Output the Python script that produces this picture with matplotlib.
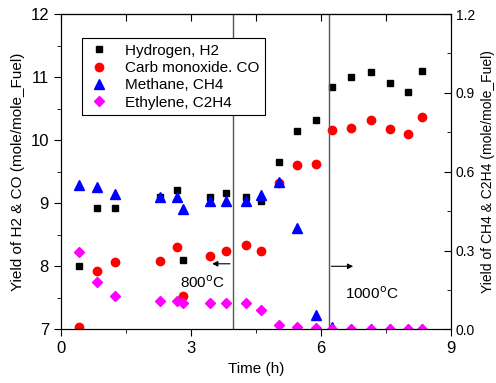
import numpy as np
import matplotlib
matplotlib.use("Agg")
import matplotlib.pyplot as plt
from matplotlib.ticker import MultipleLocator

plt.rcParams['font.family'] = ['Liberation Sans', 'DejaVu Sans']

## Data
time_h = [0.43, 0.83, 1.25, 2.29, 2.68, 2.81, 3.45, 3.81, 4.27, 4.61,
          5.03, 5.44, 5.90, 6.25, 6.69, 7.15, 7.59, 8.00, 8.34]
hydrogen = [8.00, 8.93, 8.93, 9.10, 9.21, 8.10, 9.10, 9.16, 9.10, 9.03,
            9.66, 10.15, 10.32, 10.84, 11.00, 11.08, 10.90, 10.76, 11.10]
carb_monoxide = [7.03, 7.92, 8.07, 8.09, 8.31, 7.53, 8.17, 8.25, 8.33, 8.24,
                 9.32, 9.61, 9.62, 10.16, 10.20, 10.32, 10.18, 10.10, 10.37]
methane = [0.55, 0.54, 0.515, 0.505, 0.505, 0.457, 0.49, 0.49, 0.487, 0.51,
           0.56, 0.385, 0.053, 0.008, 0.0, 0.0, 0.0, 0.0, 0.0]
ethylene = [0.293, 0.18, 0.127, 0.109, 0.109, 0.099, 0.10, 0.10, 0.10, 0.074,
            0.018, 0.009, 0.005, 0.0, 0.0, 0.0, 0.0, 0.0, 0.0]

## Gráfico
fig = plt.figure(figsize=(4.96, 3.83), dpi=100)
ax = fig.add_axes([0.1224, 0.140, 0.7866, 0.8234])
ax2 = ax.twinx()

h1, = ax.plot(time_h, hydrogen, 's', color='black', markersize=5, label='Hydrogen, H2')
h2, = ax.plot(time_h, carb_monoxide, 'o', color='red', markersize=6, label='Carb monoxide. CO')
h3, = ax2.plot(time_h, methane, '^', color='blue', markersize=6.5, label='Methane, CH4')
h4, = ax2.plot(time_h, ethylene, 'D', color='magenta', markersize=5.5, label='Ethylene, C2H4')

ax.set_xlim(0, 9)
ax.set_ylim(7, 12)
ax2.set_ylim(0, 1.2)

ax.xaxis.set_major_locator(MultipleLocator(3))
ax.xaxis.set_minor_locator(MultipleLocator(1.5))
ax.yaxis.set_major_locator(MultipleLocator(1))
ax.yaxis.set_minor_locator(MultipleLocator(0.5))
ax2.yaxis.set_major_locator(MultipleLocator(0.3))
ax2.yaxis.set_minor_locator(MultipleLocator(0.15))
ax2.yaxis.set_major_formatter(plt.FormatStrFormatter('%.1f'))

ax.tick_params(axis='both', which='major', direction='out', length=5, labelsize=12, top=False)
ax.tick_params(axis='both', which='minor', direction='out', length=3, top=False)
ax2.tick_params(axis='y', which='major', direction='in', length=5, labelsize=10)
ax2.tick_params(axis='y', which='minor', direction='in', length=3)

# top ticks pointing in
axt = ax.secondary_xaxis('top')
axt.xaxis.set_major_locator(MultipleLocator(1.5))
axt.tick_params(axis='x', which='major', direction='in', length=5, labeltop=False)

# temperature zone markers
ax.axvline(3.97, color='#555555', linewidth=1)
ax.axvline(6.18, color='#555555', linewidth=1)
ax.annotate('', xy=(3.43, 8.04), xytext=(3.97, 8.04),
            arrowprops=dict(arrowstyle='-|>', color='black', lw=0.8, mutation_scale=8))
ax.annotate('', xy=(6.81, 8.00), xytext=(6.18, 8.00),
            arrowprops=dict(arrowstyle='-|>', color='black', lw=0.8, mutation_scale=8))
ax.text(3.28, 7.74, '800$^\\mathrm{o}$C', ha='center', va='center', fontsize=11)
ax.text(7.18, 7.56, '1000$^\\mathrm{o}$C', ha='center', va='center', fontsize=11)

ax.set_xlabel('Time (h)', fontsize=11)
ax.set_ylabel('Yield of H2 & CO (mole/mole_Fuel)', fontsize=11)
ax2.set_ylabel('Yield of CH4 & C2H4 (mole/mole_Fuel)', fontsize=10)

leg = ax2.legend(handles=[h1, h2, h3, h4], loc='upper left',
                 bbox_to_anchor=(0.054, 0.923), borderaxespad=0, fontsize=11,
                 frameon=True, fancybox=False, edgecolor='black', framealpha=1,
                 handlelength=1.6, handletextpad=0.9, labelspacing=0.22,
                 borderpad=0.35)
leg.get_frame().set_linewidth(0.8)

fig.savefig('out.png', dpi=100)
